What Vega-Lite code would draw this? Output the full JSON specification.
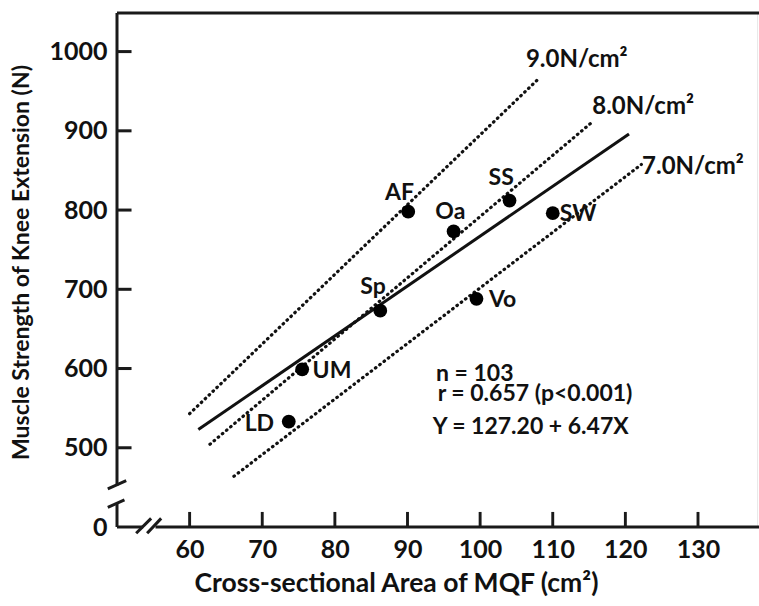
{
  "$schema": "https://vega.github.io/schema/vega-lite/v6.json",
  "width": 642,
  "height": 514,
  "autosize": {"type": "none"},
  "padding": {"left": 117, "top": 13, "right": 0, "bottom": 79},
  "background": "white",
  "config": {
    "view": {"stroke": null},
    "font": "Lato",
    "axis": {"labelFont": "Lato", "titleFont": "Lato", "labelColor": "#111", "titleColor": "#111", "labelFontWeight": "bold", "titleFontWeight": "bold"}
  },
  "datasets": {
    "points": [
      {"site": "AF", "csa": 90.1, "strength": 798, "label_csa": 88.9, "label_strength": 822},
      {"site": "Oa", "csa": 96.35, "strength": 773, "label_csa": 95.9, "label_strength": 798},
      {"site": "SS", "csa": 104.05, "strength": 812, "label_csa": 102.9, "label_strength": 840.5},
      {"site": "SW", "csa": 110.0, "strength": 796, "label_csa": 113.5, "label_strength": 794.6},
      {"site": "Vo", "csa": 99.5, "strength": 688, "label_csa": 103.1, "label_strength": 686.8},
      {"site": "Sp", "csa": 86.25, "strength": 673, "label_csa": 85.25, "label_strength": 703},
      {"site": "UM", "csa": 75.5, "strength": 599, "label_csa": 79.6, "label_strength": 597.5},
      {"site": "LD", "csa": 73.65, "strength": 533, "label_csa": 69.6, "label_strength": 530.4}
    ],
    "lines": [
      {"line": "fit", "csa": 61.2, "strength": 523},
      {"line": "fit", "csa": 120.5, "strength": 896},
      {"line": "9.0", "csa": 60.0, "strength": 543},
      {"line": "9.0", "csa": 108.2, "strength": 967},
      {"line": "8.0", "csa": 62.8, "strength": 504.4},
      {"line": "8.0", "csa": 115.3, "strength": 910},
      {"line": "7.0", "csa": 66.1, "strength": 464},
      {"line": "7.0", "csa": 122.2, "strength": 857.5}
    ],
    "lineLabels": [
      {"text": "9.0N/cm²", "csa": 106.3, "strength": 989.6},
      {"text": "8.0N/cm²", "csa": 115.44, "strength": 930.2},
      {"text": "7.0N/cm²", "csa": 122.3, "strength": 854.1}
    ],
    "notes": [
      {"text": "n = 103", "csa": 93.93, "strength": 593.3},
      {"text": "r = 0.657 (p<0.001)", "csa": 94.15, "strength": 567.5},
      {"text": "Y = 127.20 + 6.47X", "csa": 93.46, "strength": 525.8}
    ],
    "frame": [
      {"csa": 50, "strength": 452, "csa2": 50, "strength2": 1048.7},
      {"csa": 50, "strength": 400, "csa2": 50, "strength2": 430},
      {"csa": 50, "strength": 400, "csa2": 53.6, "strength2": 400},
      {"csa": 55.3, "strength": 400, "csa2": 138.4, "strength2": 400},
      {"csa": 50, "strength": 1048.7, "csa2": 138.4, "strength2": 1048.7},
      {"csa": 48.73, "strength": 448.1, "csa2": 51.27, "strength2": 458.5},
      {"csa": 48.73, "strength": 424.9, "csa2": 51.03, "strength2": 434.2},
      {"csa": 52.64, "strength": 392.1, "csa2": 54.7, "strength2": 410.9},
      {"csa": 54.15, "strength": 392.1, "csa2": 56.08, "strength2": 410.9}
    ],
    "xTickBars": [
      {"csa": 59.8, "csa2": 60.2, "strength": 400, "strength2": 419},
      {"csa": 69.8, "csa2": 70.2, "strength": 400, "strength2": 419},
      {"csa": 79.8, "csa2": 80.2, "strength": 400, "strength2": 419},
      {"csa": 89.8, "csa2": 90.2, "strength": 400, "strength2": 419},
      {"csa": 99.8, "csa2": 100.2, "strength": 400, "strength2": 419},
      {"csa": 109.8, "csa2": 110.2, "strength": 400, "strength2": 419},
      {"csa": 119.8, "csa2": 120.2, "strength": 400, "strength2": 419},
      {"csa": 129.8, "csa2": 130.2, "strength": 400, "strength2": 419}
    ],
    "yTickBars": [
      {"csa": 50, "csa2": 52, "strength": 498.1, "strength2": 501.9},
      {"csa": 50, "csa2": 52, "strength": 598.1, "strength2": 601.9},
      {"csa": 50, "csa2": 52, "strength": 698.1, "strength2": 701.9},
      {"csa": 50, "csa2": 52, "strength": 798.1, "strength2": 801.9},
      {"csa": 50, "csa2": 52, "strength": 898.1, "strength2": 901.9},
      {"csa": 50, "csa2": 52, "strength": 998.1, "strength2": 1001.9}
    ],
    "edge": [
      {"csa": 138.2, "strength": 400, "csa2": 138.2, "strength2": 1048.7}
    ]
  },
  "layer": [
    {
      "data": {"name": "edge"},
      "mark": {"type": "rule", "color": "#e8e8e8", "strokeWidth": 1},
      "encoding": {
        "x": {"field": "csa", "type": "quantitative"},
        "y": {"field": "strength", "type": "quantitative"},
        "x2": {"field": "csa2"},
        "y2": {"field": "strength2"}
      }
    },
    {
      "data": {"name": "frame"},
      "mark": {"type": "rule", "color": "#1a1a1a", "strokeWidth": 3},
      "encoding": {
        "x": {
          "field": "csa", "type": "quantitative",
          "scale": {"domain": [50, 138.4], "nice": false, "zero": false},
          "axis": {
            "values": [60, 70, 80, 90, 100, 110, 120, 130],
            "domain": false, "grid": false, "ticks": false,
            "labelFontSize": 25, "labelPadding": 10,
            "title": "Cross-sectional Area of MQF (cm²)",
            "titleFontSize": 26.5, "titleX": 279, "titleY": 56,
            "titleAlign": "center", "titleBaseline": "middle"
          }
        },
        "y": {
          "field": "strength", "type": "quantitative",
          "scale": {"domain": [400, 1048.7], "nice": false, "zero": false},
          "axis": {
            "values": [400, 500, 600, 700, 800, 900, 1000],
            "format": "d",
            "labelExpr": "datum.value == 400 ? '0' : datum.label",
            "domain": false, "grid": false, "ticks": false,
            "labelFontSize": 25, "labelPadding": 10,
            "title": "Muscle Strength of Knee Extension (N)",
            "titleFontSize": 23, "titleX": -95.5, "titleY": 249,
            "titleAlign": "center", "titleBaseline": "middle"
          }
        },
        "x2": {"field": "csa2"},
        "y2": {"field": "strength2"}
      }
    },
    {
      "data": {"name": "xTickBars"},
      "mark": {"type": "rect", "color": "#1a1a1a"},
      "encoding": {
        "x": {"field": "csa", "type": "quantitative"},
        "x2": {"field": "csa2"},
        "y": {"field": "strength", "type": "quantitative"},
        "y2": {"field": "strength2"}
      }
    },
    {
      "data": {"name": "yTickBars"},
      "mark": {"type": "rect", "color": "#1a1a1a"},
      "encoding": {
        "x": {"field": "csa", "type": "quantitative"},
        "x2": {"field": "csa2"},
        "y": {"field": "strength", "type": "quantitative"},
        "y2": {"field": "strength2"}
      }
    },
    {
      "data": {"name": "lines"},
      "transform": [{"filter": "datum.line != 'fit'"}],
      "mark": {"type": "line", "color": "#111", "strokeWidth": 3.2, "strokeCap": "round", "strokeDash": [0.6, 4.8]},
      "encoding": {
        "x": {"field": "csa", "type": "quantitative"},
        "y": {"field": "strength", "type": "quantitative"},
        "detail": {"field": "line"}
      }
    },
    {
      "data": {"name": "lines"},
      "transform": [{"filter": "datum.line == 'fit'"}],
      "mark": {"type": "line", "color": "#111", "strokeWidth": 3},
      "encoding": {
        "x": {"field": "csa", "type": "quantitative"},
        "y": {"field": "strength", "type": "quantitative"}
      }
    },
    {
      "data": {"name": "points"},
      "mark": {"type": "point", "filled": true, "shape": "circle", "color": "#000", "size": 190, "opacity": 1},
      "encoding": {
        "x": {"field": "csa", "type": "quantitative"},
        "y": {"field": "strength", "type": "quantitative"}
      }
    },
    {
      "data": {"name": "points"},
      "mark": {"type": "text", "fontSize": 23, "fontWeight": "bold", "color": "#111", "align": "center", "baseline": "middle"},
      "encoding": {
        "x": {"field": "label_csa", "type": "quantitative"},
        "y": {"field": "label_strength", "type": "quantitative"},
        "text": {"field": "site"}
      }
    },
    {
      "data": {"name": "lineLabels"},
      "mark": {"type": "text", "fontSize": 24, "fontWeight": "bold", "color": "#111", "align": "left", "baseline": "middle"},
      "encoding": {
        "x": {"field": "csa", "type": "quantitative"},
        "y": {"field": "strength", "type": "quantitative"},
        "text": {"field": "text"}
      }
    },
    {
      "data": {"name": "notes"},
      "mark": {"type": "text", "fontSize": 23, "fontWeight": "bold", "color": "#111", "align": "left", "baseline": "middle"},
      "encoding": {
        "x": {"field": "csa", "type": "quantitative"},
        "y": {"field": "strength", "type": "quantitative"},
        "text": {"field": "text"}
      }
    }
  ]
}
